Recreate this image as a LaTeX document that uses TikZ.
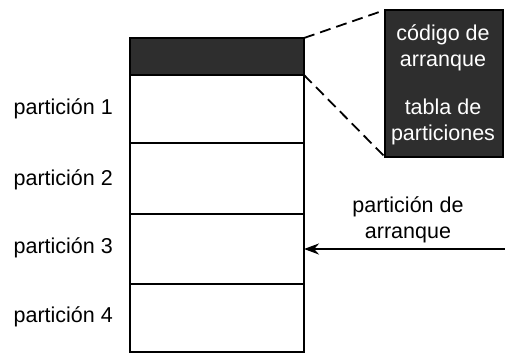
\documentclass[tikz,border=0pt]{standalone}
\usepackage{fontspec}
\setmainfont{Liberation Sans}
\usetikzlibrary{arrows.meta}
\tikzset{
  boxwall/.style={draw=black, line width=1.8pt, minimum width=174pt, inner sep=0pt, outer sep=0pt},
  mbrbox/.style={boxwall, fill=black!82},
  zoombox/.style={draw=black, line width=1.6pt, fill=black!82, minimum width=118pt, minimum height=147pt, inner sep=0pt, outer sep=0pt},
  lbl/.style={font=\fontsize{21.5}{24}\selectfont, inner sep=0pt, anchor=east},
  ztext/.style={font=\fontsize{21.5}{26}\selectfont, text=white, align=center, inner sep=0pt},
  ctext/.style={font=\fontsize{21.5}{26}\selectfont, align=center, inner sep=0pt},
  dashline/.style={line width=1.8pt, dash pattern=on 11pt off 6pt},
  arrowline/.style={line width=2.2pt, -{Stealth[length=15pt,width=11pt]}}
}
\begin{document}
\begin{tikzpicture}[x=1pt,y=-1pt]
\useasboundingbox (0,0) rectangle (505,354);
% main column
\node[mbrbox, minimum height=37pt] (mbr) at (217,56.5) {};
\node[boxwall, minimum height=68pt] (p1) at (217,109) {};
\node[boxwall, minimum height=71pt] (p2) at (217,178.5) {};
\node[boxwall, minimum height=70pt] (p3) at (217,249) {};
\node[boxwall, minimum height=68pt] (p4) at (217,318) {};
% labels
\node[lbl] (l1) at (113,109) {partición 1};
\node[lbl] (l2) at (113,180) {partición 2};
\node[lbl] (l3) at (113,248) {partición 3};
\node[lbl] (l4) at (113,317) {partición 4};
% zoomed MBR
\node[zoombox] (zoom) at (444,83.5) {};
\node[ztext] (zt1) at (443,48) {código de\\arranque};
\node[ztext] (zt2) at (443,122) {tabla de\\particiones};
\draw[dashline] (mbr.north east) -- (zoom.north west);
\draw[dashline] (mbr.south east) -- (zoom.south west);
% boot partition arrow
\coordinate (src) at (505,249);
\node[ctext] (bt) at (408,220) {partición de\\arranque};
\draw[arrowline] (src) -- (p3.east);
\end{tikzpicture}
\end{document}
